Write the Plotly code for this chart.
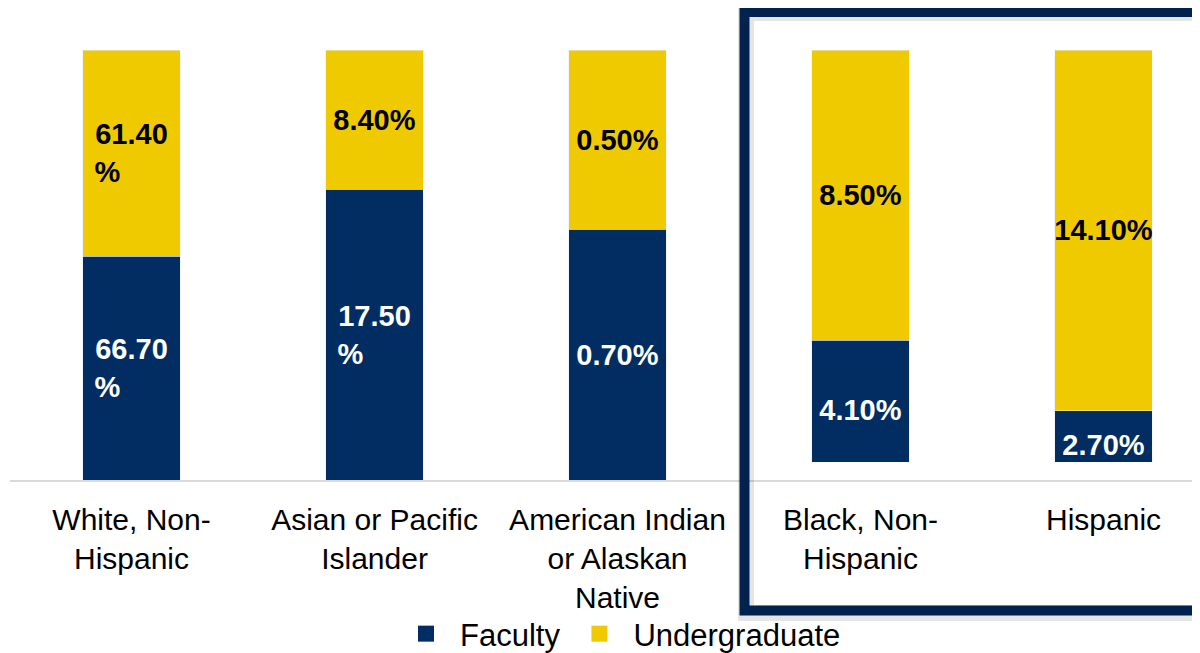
import plotly.graph_objects as go

categories = ["White, Non-<br>Hispanic", "Asian or Pacific<br>Islander",
              "American Indian<br>or Alaskan<br>Native", "Black, Non-<br>Hispanic", "Hispanic"]
faculty = [66.7, 17.5, 0.7, 4.1, 2.7]
undergraduate = [61.4, 8.4, 0.5, 8.5, 14.1]
wrap_label = [True, True, False, False, False]
series_names = ["Faculty", "Undergraduate"]

NAVY = "#012D62"
GOLD = "#EFCA00"
FONT = "Liberation Sans, Arial, sans-serif"


def fmt(v, wrap):
    s = f"{v:.2f}"
    if wrap and v >= 10:
        # left-align the wrapped "%" under the number
        return f"<b>{s}<br>%" + "&nbsp;" * 6 + "</b>"
    return f"<b>{s}%</b>"


fig = go.Figure()
for name, vals, col, tcol in [(series_names[0], faculty, NAVY, "white"),
                              (series_names[1], undergraduate, GOLD, "black")]:
    fig.add_trace(go.Bar(
        x=categories, y=vals, name=name, marker_color=col, width=0.4,
        text=[fmt(v, w) for v, w in zip(vals, wrap_label)],
        textposition="inside", insidetextanchor="middle", constraintext="none",
        textangle=0, showlegend=False,
        textfont=dict(color=tcol, size=29, family=FONT), hoverinfo="skip"))
    # legend entry with a larger square symbol
    fig.add_trace(go.Scatter(
        x=[None], y=[None], mode="markers", name=name,
        marker=dict(symbol="square", size=16, color=col), hoverinfo="skip"))

# The page body has an 8px margin; positions below are screen pixels.
# Plot area on screen: x 10..1200, y 50..480.
def px_x(p):
    return (p - 10) / 1190


def px_y(p):
    return (480 - p) / 430


shapes = [
    # mask: bars inside highlight box end above the baseline
    dict(type="rect", xref="paper", yref="paper", layer="above",
         x0=px_x(752), x1=px_x(1215), y0=0, y1=px_y(462),
         fillcolor="white", line=dict(width=0)),
    # soft shadow
    dict(type="rect", xref="paper", yref="paper", layer="above",
         x0=px_x(746), x1=px_x(1215), y0=px_y(613), y1=px_y(13),
         line=dict(color="rgba(0,0,0,0.10)", width=16)),
    # navy highlight box
    dict(type="rect", xref="paper", yref="paper", layer="above",
         x0=px_x(744.5), x1=px_x(1215), y0=px_y(610.5), y1=px_y(12),
         line=dict(color="#00224C", width=10)),
]

fig.update_layout(
    width=1192, height=645,
    barmode="stack", barnorm="percent",
    paper_bgcolor="white", plot_bgcolor="white",
    margin=dict(l=2, r=0, t=42, b=173, autoexpand=False),
    font=dict(family=FONT, size=30, color="black"),
    showlegend=True,
    legend=dict(orientation="h", x=px_x(619), xanchor="center", y=px_y(634), yanchor="middle",
                traceorder="normal", font=dict(size=31, color="black"),
                itemwidth=58, bgcolor="rgba(0,0,0,0)"),
    xaxis=dict(range=[-0.5, 4.397], showline=True, linecolor="#D9D9D9", linewidth=2,
               showgrid=False, ticks="", ticklabelstandoff=12, automargin=False,
               tickfont=dict(size=30, color="black"), fixedrange=True),
    yaxis=dict(range=[0, 100], visible=False, showgrid=False, zeroline=False, fixedrange=True),
    shapes=shapes,
)

fig.write_html("out.html")
